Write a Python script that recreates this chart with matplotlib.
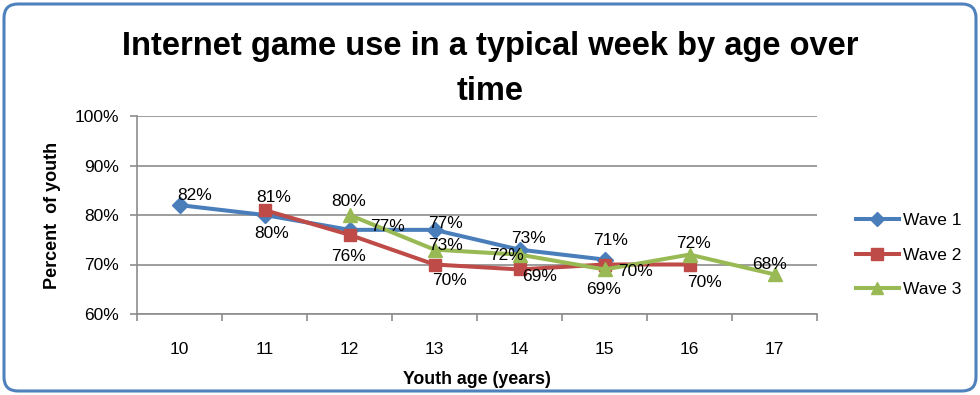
import matplotlib.pyplot as plt
from matplotlib.patches import FancyBboxPatch

ages = [10, 11, 12, 13, 14, 15, 16, 17]
age_labels = ["10", "11", "12", "13", "14", "15", "16", "17"]

wave1_ages = [10, 11, 12, 13, 14, 15]
wave1 = [82, 80, 77, 77, 73, 71]
wave2_ages = [11, 12, 13, 14, 15, 16]
wave2 = [81, 76, 70, 69, 70, 70]
wave3_ages = [12, 13, 14, 15, 16, 17]
wave3 = [80, 73, 72, 69, 72, 68]

y_ticks = [60, 70, 80, 90, 100]

# label offsets in pixels (dx, dy down) like excel placed them
off1 = [(15, -10), (7, 18), (38, -3), (11, -6), (9, -11), (6, -19)]
off2 = [(9, -13), (-1, 22), (15, 16), (20, 7), (31, 7), (15, 18)]
off3 = [(-1, -14), (11, -4), (-13, 1), (-1, 20), (4, -11), (-5, -10)]

c1, c2, c3 = "#4A7EBB", "#BE4B48", "#98B954"
grid_c = "#8C8C8C"

plt.rcParams['font.family'] = ['Liberation Sans', 'DejaVu Sans']

fig = plt.figure(figsize=(9.8, 3.95), dpi=100)
ax = fig.add_axes([137/980, 81/395, 680/980, 198/395])

ax.plot(wave1_ages, wave1, color=c1, lw=2.9, marker="D", ms=8, label="Wave 1", zorder=3)
ax.plot(wave2_ages, wave2, color=c2, lw=2.9, marker="s", ms=9, label="Wave 2", zorder=3)
ax.plot(wave3_ages, wave3, color=c3, lw=2.9, marker="^", ms=10, label="Wave 3", zorder=3)

for xs, ys, offs in [(wave1_ages, wave1, off1), (wave2_ages, wave2, off2), (wave3_ages, wave3, off3)]:
    for x, y, (dx, dy) in zip(xs, ys, offs):
        ax.annotate(f"{y}%", (x, y), xytext=(dx, -dy), textcoords="offset pixels",
                    ha="center", va="center", fontsize=12.5, zorder=4)

ax.set_xlim(9.5, 17.5)
ax.set_ylim(60, 100)
ax.set_yticks(y_ticks)
ax.set_yticklabels([f"{v}%" for v in y_ticks], fontsize=12.5)
ax.set_xticks(ages)
ax.set_xticklabels(age_labels, fontsize=12.5)
ax.set_xticks([a - 0.5 for a in ages] + [17.5], minor=True)
ax.tick_params(axis="x", which="major", length=0, pad=20)
ax.tick_params(axis="x", which="minor", length=5, color=grid_c, width=1.2)
ax.tick_params(axis="y", length=5, color=grid_c, width=1.2, pad=8)
ax.yaxis.grid(True, color=grid_c, lw=1.2)
ax.set_axisbelow(True)
for s in ["top", "right"]:
    ax.spines[s].set_visible(False)
for s in ["left", "bottom"]:
    ax.spines[s].set_color(grid_c)
    ax.spines[s].set_linewidth(1.2)

ax.set_ylabel("Percent  of youth", fontsize=13, fontweight="bold", labelpad=10)
ax.set_xlabel("Youth age (years)", fontsize=12.8, fontweight="bold", labelpad=10)

title_font = ['Liberation Sans Narrow', 'Liberation Sans']
fig.text(0.5, 1 - 47/395, "Internet game use in a typical week by age over", ha="center", va="center",
         fontsize=23.5, fontweight="bold", family=title_font)
fig.text(0.5, 1 - 92/395, "time", ha="center", va="center",
         fontsize=23.5, fontweight="bold", family=title_font)

fig.legend(loc="center left", bbox_to_anchor=(847/980, 140/395), frameon=False, fontsize=12.5,
           handlelength=2.5, handletextpad=0.2, labelspacing=1.1, borderpad=0, markerscale=0.9)

border = FancyBboxPatch((4, 4), 972, 387, boxstyle="round,pad=0,rounding_size=14",
                        transform=None, fill=False, ec="#4F81BD", lw=2.2)
fig.patches.append(border)

fig.savefig("out.png", dpi=100)
